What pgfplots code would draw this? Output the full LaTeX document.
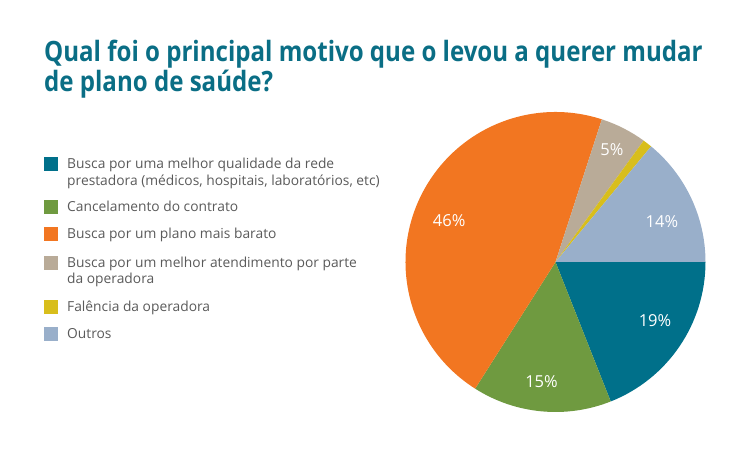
\documentclass[border=0pt]{standalone}
\usepackage{pgfplots}
\pgfplotsset{compat=1.18}
\usepackage{fontspec}
\setmainfont{Open Sans}
\IfFontExistsTF{Open Sans SemiBold}
  {\newfontfamily\titlefont[FakeStretch=0.87]{Open Sans SemiBold}\newcommand\titleweight{}}
  {\newfontfamily\titlefont[FakeStretch=0.86]{Open Sans}\newcommand\titleweight{\bfseries}}
\definecolor{cTeal}{HTML}{00708A}
\definecolor{cGreen}{HTML}{6F9A40}
\definecolor{cOrange}{HTML}{F27621}
\definecolor{cTan}{HTML}{B9AB98}
\definecolor{cYellow}{HTML}{D8BE1C}
\definecolor{cBlue}{HTML}{99AFCA}
\definecolor{cTitle}{HTML}{0A6E85}
\definecolor{cText}{HTML}{5A5A5A}
% #1 cumulative start (%), #2 value (%), #3 colour
\newcommand\slice[3]{%
  \fill[#3] (axis cs:0,0) -- (axis cs:{cos(-3.6*#1)},{sin(-3.6*#1)})
    arc[start angle={-3.6*#1}, end angle={-3.6*(#1+#2)}, radius=150pt] -- cycle;
}
% #1 angle, #2 radius, #3 label
\newcommand\slicelabel[3]{%
  \node[text=white, font=\fontsize{16.5}{18}\selectfont, inner sep=0pt]
    at (axis cs:{#2*cos(#1)},{#2*sin(#1)}) {#3};
}
\newcommand\legfont{\fontsize{13.8}{17}\selectfont}
\newcommand\legitem[3]{% #1 baseline y (image px), #2 colour, #3 text
  \fill[#2] (44,{450-#1+4.5-7}) rectangle ++(14,14);
  \node[anchor=base west, inner sep=0pt, text=cText, font=\legfont] at (67,{450-#1}) {#3};
}
\begin{document}
\begin{tikzpicture}[x=1pt,y=1pt]
\useasboundingbox (0,0) rectangle (750,450);
\node[anchor=base west, inner sep=0pt, text=cTitle, font=\titlefont\titleweight\fontsize{28}{30}\selectfont] at (44,{450-62}) {Qual foi o principal motivo que o levou a querer mudar};
\node[anchor=base west, inner sep=0pt, text=cTitle, font=\titlefont\titleweight\fontsize{28}{30}\selectfont] at (44,{450-92}) {de plano de saúde?};
\legitem{169}{cTeal}{Busca por uma melhor qualidade da rede}
\node[anchor=base west, inner sep=0pt, text=cText, font=\legfont] at (67,{450-186}) {prestadora (médicos, hospitais, laboratórios, etc)};
\legitem{212}{cGreen}{Cancelamento do contrato}
\legitem{239}{cOrange}{Busca por um plano mais barato}
\legitem{268}{cTan}{Busca por um melhor atendimento por parte}
\node[anchor=base west, inner sep=0pt, text=cText, font=\legfont] at (67,{450-284}) {da operadora};
\legitem{312}{cYellow}{Falência da operadora}
\legitem{339}{cBlue}{Outros}
\begin{axis}[at={(555.5pt,188pt)}, anchor=center, hide axis, scale only axis,
  x=150pt, y=150pt, xmin=-1, xmax=1, ymin=-1, ymax=1, clip=false]
\slice{0}{19}{cTeal}
\slice{19}{15}{cGreen}
\slice{34}{46}{cOrange}
\slice{80}{5}{cTan}
\slice{85}{1}{cYellow}
\slice{86}{14}{cBlue}
\slicelabel{-30.5}{0.77}{19\%}
\slicelabel{-96.7}{0.80}{15\%}
\slicelabel{158.9}{0.76}{46\%}
\slicelabel{63.4}{0.84}{5\%}
\slicelabel{21}{0.76}{14\%}
\end{axis}
\end{tikzpicture}
\end{document}
